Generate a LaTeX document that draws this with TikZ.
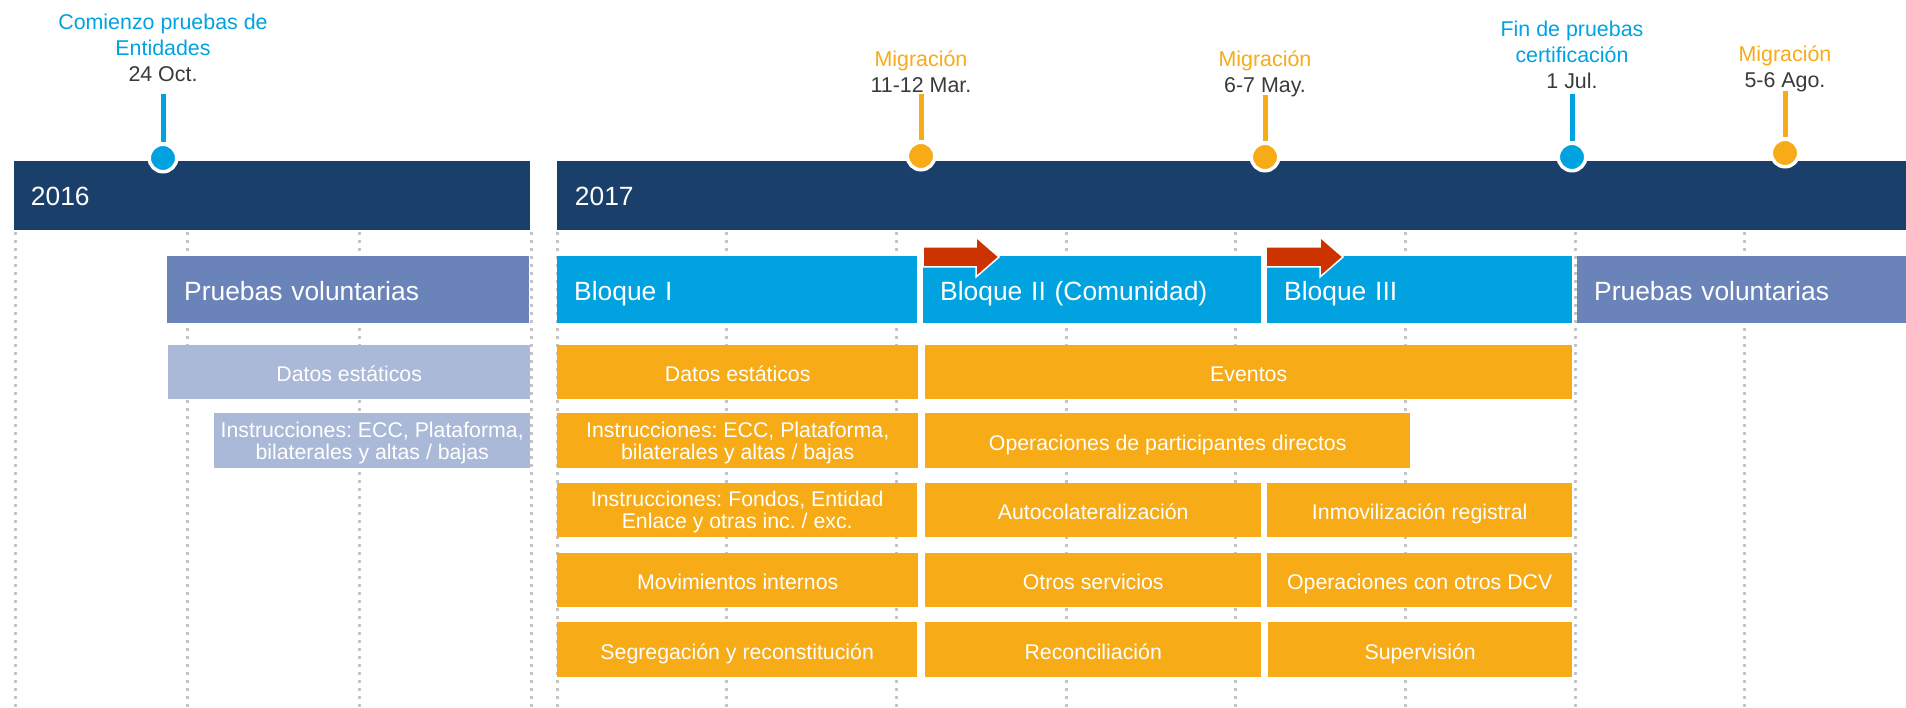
\documentclass[tikz,border=0pt]{standalone}
\usepackage{xcolor}
\usepackage{fontspec}
\setmainfont{Liberation Sans}
\usepackage{tikz}
\frenchspacing

\definecolor{navyB}{HTML}{1A3F6A}
\definecolor{cyanB}{HTML}{00A3E0}
\definecolor{orngB}{HTML}{F6AB17}
\definecolor{slateB}{HTML}{6A84B9}
\definecolor{slateL}{HTML}{AAB9D8}
\definecolor{redA}{HTML}{CC3300}
\definecolor{gridC}{HTML}{C4C4C4}
\definecolor{dateC}{HTML}{3A3A3A}

\tikzset{
  gridline/.style={draw=gridC, line width=3pt, dash pattern=on 3pt off 5pt},
  yeartxt/.style={anchor=west, inner sep=0.75pt, text=white, font=\fontsize{26.4}{30}\selectfont},
  head/.style={fill=#1, anchor=north west, minimum height=67pt, inner xsep=17pt, inner ysep=0pt, align=left, text=white, text height=21pt, text depth=0pt, font=\fontsize{26.4}{30}\selectfont},
  cell/.style={fill=#1, anchor=north west, minimum height=54pt, inner sep=0.75pt, align=center, text=white, text height=19pt, text depth=0pt, font=\fontsize{21.3}{22}\selectfont},
  twoline/.style={text height=, text depth=-4pt},
  eventdot/.style={circle, fill=#1, draw=white, line width=3.5pt, minimum size=27.5pt, inner sep=0pt},
  eventtxt/.style={inner sep=0.75pt, align=center, font=\fontsize{21.4}{26}\selectfont},
  stem/.style={line width=5pt},
  shiftarrow/.style={fill=redA, draw=white, line width=1.5pt, line join=miter},
}

\begin{document}
\begin{tikzpicture}[x=1pt,y=1pt,yscale=-1,xscale=1]
\useasboundingbox (0,0) rectangle (1906,708);

\foreach \gx in {15,187,359,531,557,726.7,896.4,1066.1,1235.8,1405.5,1575.2,1744.9}
  \draw[gridline] (\gx,232) -- (\gx,708);

\fill[navyB] (14,161) rectangle (530,230);
\fill[navyB] (557,161) rectangle (1906,230);
\node[yeartxt] (y2016) at (30,196) {2016};
\node[yeartxt] (y2017) at (574,196) {2017};

\node[eventdot=cyanB] (dOct) at (163,158) {};
\node[eventdot=orngB] (dMar) at (921,156) {};
\node[eventdot=orngB] (dMay) at (1265,157) {};
\node[eventdot=cyanB] (dJul) at (1572,157) {};
\node[eventdot=orngB] (dAgo) at (1785,153) {};

\node[eventtxt, text=cyanB] (lOct) at (163,48) {Comienzo pruebas de\\Entidades\\\textcolor{dateC}{24 Oct.}};
\node[eventtxt, text=orngB] (lMar) at (921,72) {Migración\\\textcolor{dateC}{11-12 Mar.}};
\node[eventtxt, text=orngB] (lMay) at (1265,74) {Migración\\\textcolor{dateC}{6-7 May.}};
\node[eventtxt, text=cyanB] (lJul) at (1572,55) {Fin de pruebas\\certificación\\\textcolor{dateC}{1 Jul.}};
\node[eventtxt, text=orngB] (lAgo) at (1785,69) {Migración\\\textcolor{dateC}{5-6 Ago.}};

\coordinate (sOct) at (163,94);
\coordinate (sMar) at (921,94);
\coordinate (sMay) at (1265,95);
\coordinate (sJul) at (1572,94);
\coordinate (sAgo) at (1785,91);
\draw[stem, cyanB] (sOct) -- (dOct);
\draw[stem, orngB] (sMar) -- (dMar);
\draw[stem, orngB] (sMay) -- (dMay);
\draw[stem, cyanB] (sJul) -- (dJul);
\draw[stem, orngB] (sAgo) -- (dAgo);

\node[head=slateB, text width=328pt] (pv16) at (167,256) {Pruebas voluntarias};
\node[head=cyanB, text width=326pt] (bq1) at (557,256) {Bloque I};
\node[head=cyanB, text width=304pt] (bq2) at (923,256) {Bloque II (Comunidad)};
\node[head=cyanB, text width=271pt] (bq3) at (1267,256) {Bloque III};
\node[head=slateB, text width=295pt] (pv17) at (1577,256) {Pruebas voluntarias};

\node[cell=slateL, minimum width=362pt] (ds16) at (168,345) {Datos estáticos};
\node[cell=slateL, twoline, minimum width=316pt, minimum height=55pt] (in16) at (214,413) {Instrucciones: ECC, Plataforma,\\bilaterales y altas / bajas};

\node[cell=orngB, minimum width=361pt] (ds17) at (557,345) {Datos estáticos};
\node[cell=orngB, twoline, minimum width=361pt, minimum height=55pt] (in17) at (557,413) {Instrucciones: ECC, Plataforma,\\bilaterales y altas / bajas};
\node[cell=orngB, twoline, minimum width=360pt] (fo17) at (557,483) {Instrucciones: Fondos, Entidad\\Enlace y otras inc. / exc.};
\node[cell=orngB, minimum width=361pt] (mv17) at (557,553) {Movimientos internos};
\node[cell=orngB, minimum width=360pt, minimum height=55pt] (sg17) at (557,622) {Segregación y reconstitución};

\node[cell=orngB, minimum width=647pt] (ev) at (925,345) {Eventos};
\node[cell=orngB, minimum width=485pt, minimum height=55pt] (op) at (925,413) {Operaciones de participantes directos};
\node[cell=orngB, minimum width=336pt] (au) at (925,483) {Autocolateralización};
\node[cell=orngB, minimum width=336pt] (ot) at (925,553) {Otros servicios};
\node[cell=orngB, minimum width=336pt, minimum height=55pt] (rc) at (925,622) {Reconciliación};

\node[cell=orngB, minimum width=305pt] (im) at (1267,483) {Inmovilización registral};
\node[cell=orngB, minimum width=305pt] (dc) at (1267,553) {Operaciones con otros DCV};
\node[cell=orngB, minimum width=304pt, minimum height=55pt] (sv) at (1268,622) {Supervisión};

\draw[shiftarrow] (923,247) -- (976,247) -- (976,237) -- (999,257) -- (976,277) -- (976,267) -- (923,267) -- cycle;
\draw[shiftarrow] (1266,247) -- (1320,247) -- (1320,237) -- (1343,257) -- (1320,277) -- (1320,267) -- (1266,267) -- cycle;
\end{tikzpicture}
\end{document}
